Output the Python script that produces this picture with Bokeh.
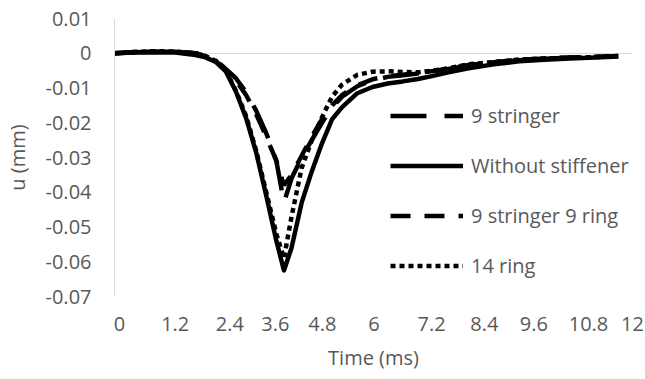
from bokeh.plotting import figure
from bokeh.models import Range1d, FixedTicker, Legend, LegendItem
from bokeh.embed import file_html
from bokeh.resources import INLINE

# Category-axis positions (Excel line chart: uneven time steps)
x_pos = [0, 4, 8, 12, 16, 18, 20, 22, 24, 26, 28, 30, 32, 33.5, 35, 37, 39, 41, 43, 45,
         48, 51, 54, 57, 60, 63, 66, 70, 75, 80, 85, 90, 95, 99.6]

y_9_stringer = [0, 0.0003, 0.0005, 0.0004, 0.0, -0.0008, -0.002, -0.0045, -0.0072, -0.0112,
                -0.0165, -0.023, -0.031, -0.043, -0.036, -0.030, -0.025, -0.020, -0.0155, -0.0125,
                -0.0095, -0.0078, -0.0068, -0.0063, -0.0058, -0.0052, -0.0045, -0.0035, -0.0027,
                -0.0020, -0.0016, -0.0013, -0.0011, -0.0008]

y_without = [0, 0.0002, 0.0003, 0.0002, -0.0005, -0.0012, -0.0025, -0.0052, -0.011, -0.0186,
             -0.0285, -0.041, -0.054, -0.0625, -0.056, -0.043, -0.034, -0.026, -0.019, -0.0155,
             -0.0115, -0.0097, -0.0087, -0.0081, -0.0074, -0.0065, -0.0055, -0.0043, -0.0032,
             -0.0023, -0.0019, -0.0015, -0.0012, -0.0009]

y_9s_9r = [0, 0.0003, 0.0005, 0.0004, 0.0, -0.0009, -0.0022, -0.0048, -0.0078, -0.012,
           -0.0175, -0.024, -0.031, -0.038, -0.035, -0.0295, -0.024, -0.019, -0.015, -0.012,
           -0.0092, -0.0075, -0.0066, -0.0062, -0.0057, -0.0051, -0.0044, -0.0034, -0.0026,
           -0.0019, -0.0015, -0.0012, -0.0010, -0.0008]

y_14_ring = [0, 0.0004, 0.0006, 0.0005, 0.0, -0.0008, -0.0022, -0.005, -0.0108, -0.018,
             -0.028, -0.040, -0.052, -0.059, -0.047, -0.033, -0.025, -0.0185, -0.0125, -0.009,
             -0.0062, -0.0053, -0.0052, -0.0054, -0.0055, -0.0050, -0.0043, -0.0032, -0.0025,
             -0.0018, -0.0015, -0.0013, -0.0011, -0.0008]

series_names = ["9 stringer", "Without stiffener", "9 stringer 9 ring", "14 ring"]

x_tick_pos = [1.0, 12.0, 22.8, 31.8, 41.1, 51.3, 62.7, 73.1, 82.9, 93.7, 102.4]
x_tick_labels = ["0", "1.2", "2.4", "3.6", "4.8", "6", "7.2", "8.4", "9.6", "10.8", "12"]
y_ticks = [0.01, 0, -0.01, -0.02, -0.03, -0.04, -0.05, -0.06, -0.07]
y_tick_labels = ["0.01", "0", "-0.01", "-0.02", "-0.03", "-0.04", "-0.05", "-0.06", "-0.07"]

FONT = "Open Sans"
GRAY = "#595959"

p = figure(width=645, height=379, output_backend="svg", toolbar_location=None,
           x_range=Range1d(0, 102.4), y_range=Range1d(-0.07, 0.01),
           min_border_left=111, min_border_right=13, min_border_top=18, min_border_bottom=83)
p.outline_line_color = None
p.background_fill_color = "white"
p.border_fill_color = "white"

p.xgrid.visible = False
p.ygrid.ticker = FixedTicker(ticks=[0])
p.ygrid.grid_line_color = "#d9d9d9"
p.ygrid.grid_line_width = 1

p.xaxis.ticker = FixedTicker(ticks=x_tick_pos)
p.xaxis.major_label_overrides = {t: l for t, l in zip(x_tick_pos, x_tick_labels)}
p.yaxis.ticker = FixedTicker(ticks=y_ticks)
p.yaxis.major_label_overrides = {t: l for t, l in zip(y_ticks, y_tick_labels)}

for ax in (p.xaxis[0], p.yaxis[0]):
    ax.major_tick_line_color = None
    ax.minor_tick_line_color = None
    ax.major_tick_out = 0
    ax.major_tick_in = 0
    ax.major_label_text_font = FONT
    ax.major_label_text_font_size = "20px"
    ax.major_label_text_color = GRAY
    ax.axis_label_text_font = FONT
    ax.axis_label_text_font_size = "20px"
    ax.axis_label_text_color = GRAY
    ax.axis_label_text_font_style = "normal"

p.xaxis.axis_line_color = None
p.xaxis.major_label_standoff = 20
p.xaxis.axis_label = "Time (ms)"
p.xaxis.axis_label_standoff = 10

p.yaxis.axis_line_color = "#d9d9d9"
p.yaxis.major_label_standoff = 23
p.yaxis.axis_label = "u (mm)"
p.yaxis.axis_label_standoff = 12

lw = 4.5
r1 = p.line(x_pos, y_9_stringer, line_color="black", line_width=lw, line_dash="36 18")
r2 = p.line(x_pos, y_without, line_color="black", line_width=lw, line_join="round")
r3 = p.line(x_pos, y_9s_9r, line_color="black", line_width=lw, line_dash="20 14")
r4 = p.line(x_pos, y_14_ring, line_color="black", line_width=lw, line_dash="5 4")

legend = Legend(items=[LegendItem(label=n, renderers=[r]) for n, r in
                       zip(series_names, [r1, r2, r3, r4])],
                location=(276, 17), orientation="vertical")
legend.label_text_font = FONT
legend.label_text_font_size = "20px"
legend.label_text_color = GRAY
legend.glyph_width = 73
legend.glyph_height = 27
legend.label_height = 27
legend.label_standoff = 8
legend.spacing = 23
legend.padding = 0
legend.margin = 0
legend.border_line_color = None
legend.background_fill_alpha = 0
p.add_layout(legend)

open("out.html", "w").write(file_html(p, INLINE))
